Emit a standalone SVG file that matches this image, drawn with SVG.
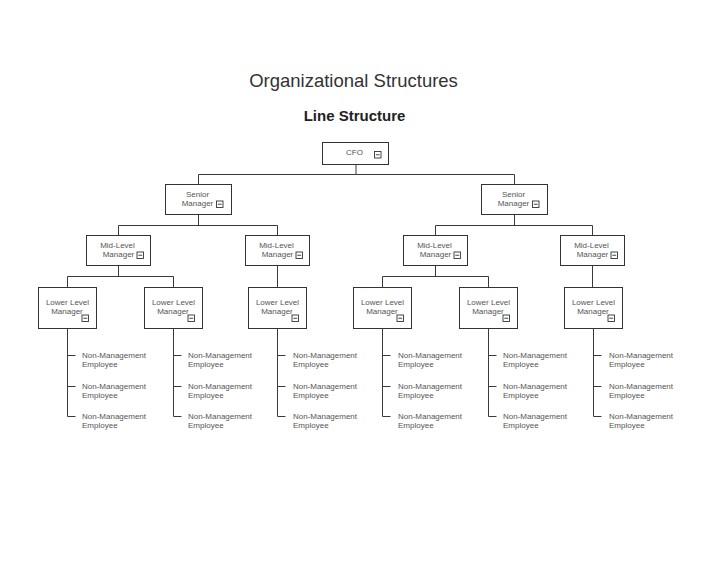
<svg xmlns="http://www.w3.org/2000/svg" width="728" height="563" viewBox="0 0 728 563">
<style>
.bg{fill:#ffffff}
.box{fill:#ffffff;stroke:#333333;stroke-width:1}
.ic{fill:#ffffff;stroke:#333333;stroke-width:0.9}
.icl{stroke:#333333;stroke-width:0.9}
.t{font-family:"Liberation Sans",Arial,sans-serif;font-size:8px;fill:#555555}
.c{text-anchor:middle}
.conn{fill:none;stroke:#3a3a3a;stroke-width:1}
.title{font-family:"Liberation Sans",Arial,sans-serif;font-size:18.5px;fill:#333333;text-anchor:middle}
.sub{font-family:"Liberation Sans",Arial,sans-serif;font-size:15px;font-weight:bold;fill:#222222;text-anchor:middle}
</style>
<defs>
<g id="icon"><rect class="ic" x="0" y="0" width="6.5" height="6.5"/><line class="icl" x1="1.3" y1="3.25" x2="5.2" y2="3.25"/></g>
</defs>
<rect class="bg" x="0" y="0" width="728" height="563"/>
<text class="title" x="353.5" y="87">Organizational Structures</text>
<text class="sub" x="354.5" y="121">Line Structure</text>

<g id="connectors">
<path class="conn" d="M356,165V174.5M198.5,174.5H514.5M198.5,174.5V184M514.5,174.5V184"/>
<path class="conn" d="M198.5,215V225.5M118.5,225.5H277.5M118.5,225.5V236M277.5,225.5V236"/>
<path class="conn" d="M514.5,215V225.5M435.5,225.5H592.5M435.5,225.5V236M592.5,225.5V236"/>
<path class="conn" d="M118.5,266V276.5M67.5,276.5H173.5M67.5,276.5V287M173.5,276.5V287"/>
<path class="conn" d="M277.5,266V287"/>
<path class="conn" d="M435.5,266V276.5M382.5,276.5H488.5M382.5,276.5V287M488.5,276.5V287"/>
<path class="conn" d="M592.5,266V287"/>
<path class="conn" d="M67.5,329V416.5H75.5M67.5,355.5H75.5M67.5,386.5H75.5"/>
<path class="conn" d="M173.5,329V416.5H181.5M173.5,355.5H181.5M173.5,386.5H181.5"/>
<path class="conn" d="M277.5,329V416.5H285.5M277.5,355.5H285.5M277.5,386.5H285.5"/>
<path class="conn" d="M382.5,329V416.5H390.5M382.5,355.5H390.5M382.5,386.5H390.5"/>
<path class="conn" d="M488.5,329V416.5H496.5M488.5,355.5H496.5M488.5,386.5H496.5"/>
<path class="conn" d="M593.5,329V416.5H601.5M593.5,355.5H601.5M593.5,386.5H601.5"/>
</g>

<g id="cfo">
<rect class="box" x="322.5" y="142.5" width="66" height="22"/>
<text class="t c" x="354.5" y="155">CFO</text>
<use href="#icon" x="374.5" y="151.5"/>
</g>

<g id="senior1">
<rect class="box" x="165.5" y="184.5" width="66" height="30"/>
<text class="t c" x="197.5" y="197">Senior</text>
<text class="t c" x="197.5" y="206">Manager</text>
<use href="#icon" x="216.5" y="201"/>
</g>
<g id="senior2">
<rect class="box" x="481.5" y="184.5" width="66" height="30"/>
<text class="t c" x="513.5" y="197">Senior</text>
<text class="t c" x="513.5" y="206">Manager</text>
<use href="#icon" x="532.5" y="201"/>
</g>

<g id="mid1">
<rect class="box" x="86.5" y="235.5" width="64" height="30"/>
<text class="t c" x="117.5" y="247.5">Mid-Level</text>
<text class="t c" x="118.5" y="256.5">Manager</text>
<use href="#icon" x="137" y="252"/>
</g>
<g id="mid2">
<rect class="box" x="245.5" y="235.5" width="64" height="30"/>
<text class="t c" x="276.5" y="247.5">Mid-Level</text>
<text class="t c" x="277.5" y="256.5">Manager</text>
<use href="#icon" x="296" y="252"/>
</g>
<g id="mid3">
<rect class="box" x="403.5" y="235.5" width="64" height="30"/>
<text class="t c" x="434.5" y="247.5">Mid-Level</text>
<text class="t c" x="435.5" y="256.5">Manager</text>
<use href="#icon" x="454" y="252"/>
</g>
<g id="mid4">
<rect class="box" x="560.5" y="235.5" width="64" height="30"/>
<text class="t c" x="591.5" y="247.5">Mid-Level</text>
<text class="t c" x="592.5" y="256.5">Manager</text>
<use href="#icon" x="611" y="252"/>
</g>

<g id="lower1">
<rect class="box" x="38.5" y="287.5" width="58" height="41"/>
<text class="t c" x="67.5" y="304.5">Lower Level</text>
<text class="t c" x="67" y="313.5">Manager</text>
<use href="#icon" x="82" y="315"/>
</g>
<g id="lower2">
<rect class="box" x="144.5" y="287.5" width="58" height="41"/>
<text class="t c" x="173.5" y="304.5">Lower Level</text>
<text class="t c" x="173" y="313.5">Manager</text>
<use href="#icon" x="188" y="315"/>
</g>
<g id="lower3">
<rect class="box" x="248.5" y="287.5" width="58" height="41"/>
<text class="t c" x="277.5" y="304.5">Lower Level</text>
<text class="t c" x="277" y="313.5">Manager</text>
<use href="#icon" x="292" y="315"/>
</g>
<g id="lower4">
<rect class="box" x="353.5" y="287.5" width="58" height="41"/>
<text class="t c" x="382.5" y="304.5">Lower Level</text>
<text class="t c" x="382" y="313.5">Manager</text>
<use href="#icon" x="397" y="315"/>
</g>
<g id="lower5">
<rect class="box" x="459.5" y="287.5" width="58" height="41"/>
<text class="t c" x="488.5" y="304.5">Lower Level</text>
<text class="t c" x="488" y="313.5">Manager</text>
<use href="#icon" x="503" y="315"/>
</g>
<g id="lower6">
<rect class="box" x="564.5" y="287.5" width="58" height="41"/>
<text class="t c" x="593.5" y="304.5">Lower Level</text>
<text class="t c" x="593" y="313.5">Manager</text>
<use href="#icon" x="608" y="315"/>
</g>

<g id="emp-1-1"><text class="t" x="82" y="357.5">Non-Management</text><text class="t" x="82" y="366.5">Employee</text></g>
<g id="emp-1-2"><text class="t" x="82" y="388.5">Non-Management</text><text class="t" x="82" y="397.5">Employee</text></g>
<g id="emp-1-3"><text class="t" x="82" y="419">Non-Management</text><text class="t" x="82" y="428">Employee</text></g>
<g id="emp-2-1"><text class="t" x="188" y="357.5">Non-Management</text><text class="t" x="188" y="366.5">Employee</text></g>
<g id="emp-2-2"><text class="t" x="188" y="388.5">Non-Management</text><text class="t" x="188" y="397.5">Employee</text></g>
<g id="emp-2-3"><text class="t" x="188" y="419">Non-Management</text><text class="t" x="188" y="428">Employee</text></g>
<g id="emp-3-1"><text class="t" x="293" y="357.5">Non-Management</text><text class="t" x="293" y="366.5">Employee</text></g>
<g id="emp-3-2"><text class="t" x="293" y="388.5">Non-Management</text><text class="t" x="293" y="397.5">Employee</text></g>
<g id="emp-3-3"><text class="t" x="293" y="419">Non-Management</text><text class="t" x="293" y="428">Employee</text></g>
<g id="emp-4-1"><text class="t" x="398" y="357.5">Non-Management</text><text class="t" x="398" y="366.5">Employee</text></g>
<g id="emp-4-2"><text class="t" x="398" y="388.5">Non-Management</text><text class="t" x="398" y="397.5">Employee</text></g>
<g id="emp-4-3"><text class="t" x="398" y="419">Non-Management</text><text class="t" x="398" y="428">Employee</text></g>
<g id="emp-5-1"><text class="t" x="503" y="357.5">Non-Management</text><text class="t" x="503" y="366.5">Employee</text></g>
<g id="emp-5-2"><text class="t" x="503" y="388.5">Non-Management</text><text class="t" x="503" y="397.5">Employee</text></g>
<g id="emp-5-3"><text class="t" x="503" y="419">Non-Management</text><text class="t" x="503" y="428">Employee</text></g>
<g id="emp-6-1"><text class="t" x="609" y="357.5">Non-Management</text><text class="t" x="609" y="366.5">Employee</text></g>
<g id="emp-6-2"><text class="t" x="609" y="388.5">Non-Management</text><text class="t" x="609" y="397.5">Employee</text></g>
<g id="emp-6-3"><text class="t" x="609" y="419">Non-Management</text><text class="t" x="609" y="428">Employee</text></g>
</svg>
